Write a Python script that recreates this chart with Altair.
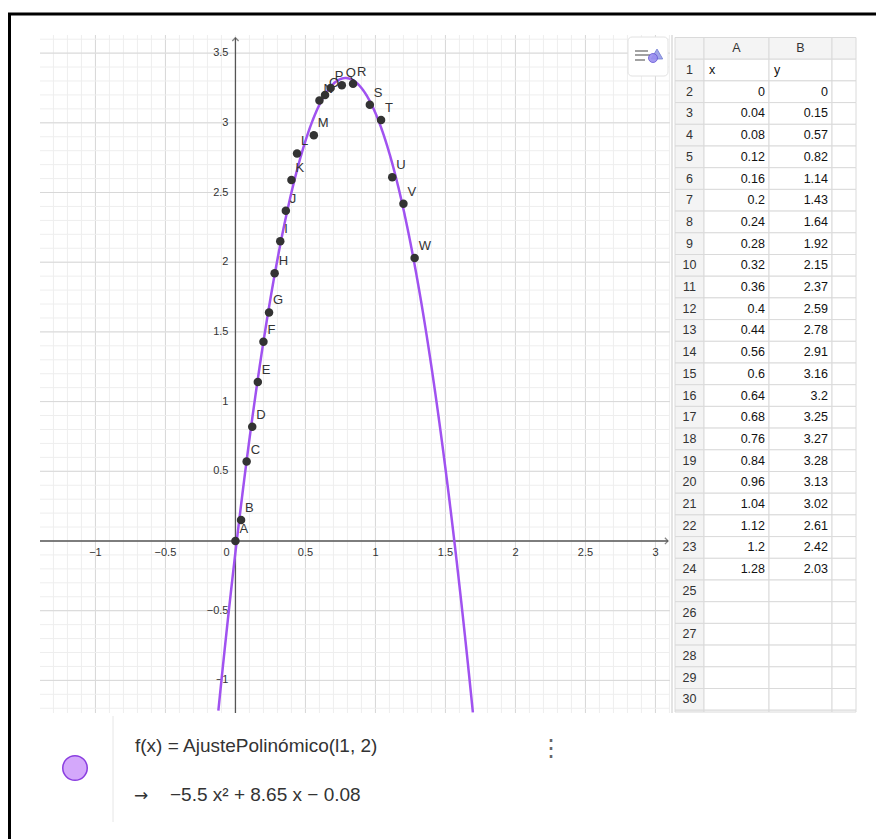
import altair as alt
import numpy as np
import pandas as pd

# Spreadsheet columns A (x) and B (y)
x_vals = [0, 0.04, 0.08, 0.12, 0.16, 0.2, 0.24, 0.28, 0.32, 0.36, 0.4, 0.44,
          0.56, 0.6, 0.64, 0.68, 0.76, 0.84, 0.96, 1.04, 1.12, 1.2, 1.28]
y_vals = [0, 0.15, 0.57, 0.82, 1.14, 1.43, 1.64, 1.92, 2.15, 2.37, 2.59, 2.78,
          2.91, 3.16, 3.2, 3.25, 3.27, 3.28, 3.13, 3.02, 2.61, 2.42, 2.03]
point_names = list("ABCDEFGHIJKLMNOPQRSTUVW")

# f(x) = a x^2 + b x + c
fit_coeffs = [-5.5, 8.65, -0.08]

x_ticks = [-1, -0.5, 0.5, 1, 1.5, 2, 2.5, 3]
y_ticks = [-1, -0.5, 0.5, 1, 1.5, 2, 2.5, 3, 3.5]

sheet_headers = ["", "A", "B", ""]
sheet_visible_rows = 30

FONT = "Liberation Sans"
INK = "#333333"
PURPLE = "#a052f0"
AXIS = "#555555"

# ---- graphics view window ----
X_DOMAIN = [-1.396, 3.104]
Y_DOMAIN = [-1.234, 3.63]
xs = alt.Scale(domain=X_DOMAIN, range=[40, 670], nice=False, zero=False)
ys = alt.Scale(domain=Y_DOMAIN, range=[713, 35], nice=False, zero=False)


def X(field):
    return alt.X(field, type="quantitative", scale=xs, axis=None)


def Y(field):
    return alt.Y(field, type="quantitative", scale=ys, axis=None)


def XD(v):
    return alt.X(datum=v, scale=xs, axis=None)


def YD(v):
    return alt.Y(datum=v, scale=ys, axis=None)


def fmt(v):
    return f"{v:g}".replace("-", "\u2212")


layers = []

# grid lines: minor every 0.1, major every 0.5
minor_x = [round(v, 1) for v in np.arange(-1.3, 3.11, 0.1)]
minor_y = [round(v, 1) for v in np.arange(-1.2, 3.61, 0.1)]
major_x = [-1, -0.5, 0.5, 1, 1.5, 2, 2.5, 3]
major_y = [-1, -0.5, 0.5, 1, 1.5, 2, 2.5, 3, 3.5]

for vals, color in ((minor_x, "#eeeeee"), (major_x, "#d8d8d8")):
    layers.append(
        alt.Chart(pd.DataFrame({"gx": vals})).mark_rule(color=color, strokeWidth=1).encode(
            x=X("gx"), y=YD(Y_DOMAIN[0]), y2=alt.Y2(datum=Y_DOMAIN[1])
        )
    )
for vals, color in ((minor_y, "#eeeeee"), (major_y, "#d8d8d8")):
    layers.append(
        alt.Chart(pd.DataFrame({"gy": vals})).mark_rule(color=color, strokeWidth=1).encode(
            y=Y("gy"), x=XD(X_DOMAIN[0]), x2=alt.X2(datum=X_DOMAIN[1])
        )
    )

# axes through the origin, with arrow heads
one = pd.DataFrame({"o": [0]})
layers.append(
    alt.Chart(one).mark_rule(color=AXIS, strokeWidth=1.3).encode(
        x=XD(X_DOMAIN[0]), x2=alt.X2(datum=3.09), y=YD(0)
    )
)
layers.append(
    alt.Chart(one).mark_rule(color=AXIS, strokeWidth=1.3).encode(
        x=XD(0), y=YD(Y_DOMAIN[0]), y2=alt.Y2(datum=3.61)
    )
)
chevron = "M-1,-1L0,0L-1,1"
layers.append(
    alt.Chart(one).mark_point(shape=chevron, filled=False, stroke=AXIS, strokeWidth=1.3, size=40).encode(
        x=XD(3.09), y=YD(0)
    )
)
layers.append(
    alt.Chart(one).mark_point(shape=chevron, filled=False, stroke=AXIS, strokeWidth=1.3, size=40, angle=270).encode(
        x=XD(0), y=YD(3.61)
    )
)

# tick labels
layers.append(
    alt.Chart(pd.DataFrame({"v": x_ticks, "t": [fmt(v) for v in x_ticks]}))
    .mark_text(dy=12, fontSize=11, font=FONT, color=INK, baseline="middle")
    .encode(x=X("v"), y=YD(0), text="t:N")
)
layers.append(
    alt.Chart(pd.DataFrame({"t": ["0"]}))
    .mark_text(dx=-9, dy=12, fontSize=11, font=FONT, color=INK, baseline="middle")
    .encode(x=XD(0), y=YD(0), text="t:N")
)
layers.append(
    alt.Chart(pd.DataFrame({"v": y_ticks, "t": [fmt(v) for v in y_ticks]}))
    .mark_text(dx=-7, align="right", fontSize=11, font=FONT, color=INK, baseline="middle")
    .encode(x=XD(0), y=Y("v"), text="t:N")
)

# fitted parabola
a, b, c = fit_coeffs
layers.append(
    alt.Chart(alt.sequence(-0.13, 1.70, 0.002, as_="x"))
    .transform_calculate(y=f"{a}*datum.x*datum.x + {b}*datum.x + {c}")
    .transform_filter(f"datum.y >= {Y_DOMAIN[0]}")
    .mark_line(color=PURPLE, strokeWidth=2.5)
    .encode(x=X("x"), y=Y("y"), order="x:Q")
)

# data points and their names
pts = pd.DataFrame({"x": x_vals, "y": y_vals, "name": point_names})
layers.append(
    alt.Chart(pts).mark_circle(size=72, color=INK, opacity=1).encode(x=X("x"), y=Y("y"))
)
layers.append(
    alt.Chart(pts)
    .mark_text(align="left", dx=4, dy=-12, fontSize=13, font=FONT, color=INK, baseline="middle")
    .encode(x=X("x"), y=Y("y"), text="name:N")
)

# style bar toggle in the corner of the graphics view
layers.append(
    alt.Chart(one).mark_rect(fill="white", stroke="#e2e2e2", cornerRadius=4).encode(
        x=alt.value(628), x2=alt.value(668), y=alt.value(37), y2=alt.value(76)
    )
)
bar_lines = pd.DataFrame({"x1": [635, 635, 635], "x2": [648, 650, 645], "yy": [51, 55, 60]})
layers.append(
    alt.Chart(bar_lines).mark_rule(color="#7a7a7a", strokeWidth=1.4).encode(
        x=alt.X("x1:Q", scale=alt.Scale(domain=[0, 876], range=[0, 876]), axis=None),
        x2="x2:Q",
        y=alt.Y("yy:Q", scale=alt.Scale(domain=[0, 839], range=[0, 839]), axis=None),
    )
)
layers.append(
    alt.Chart(one).mark_point(shape="triangle-up", filled=True, fill="#7b7fe0", stroke="#4a5bc8",
                              strokeWidth=1, size=130).encode(x=alt.value(657), y=alt.value(54))
)
layers.append(
    alt.Chart(one).mark_point(shape="circle", filled=True, fill="#9a8ff0", stroke="#6a5cd8",
                              strokeWidth=1, size=80, opacity=0.9).encode(x=alt.value(653), y=alt.value(58))
)

# ---- spreadsheet view ----
ROW_H = 21.7
SHEET_TOP = 37.5
SHEET_BOTTOM = 712
col_widths = [29, 65, 63, 24]
edges = np.concatenate([[0], np.cumsum(col_widths)]).tolist()
sx = alt.Scale(domain=[0, edges[-1]], range=[675, 675 + edges[-1]], nice=False, zero=False)
sy = alt.Scale(domain=[0, (SHEET_BOTTOM - SHEET_TOP) / ROW_H], range=[SHEET_TOP, SHEET_BOTTOM],
               nice=False, zero=False, clamp=True)

cells = []
for r in range(0, sheet_visible_rows + 2):
    for ci in range(4):
        cells.append({
            "l": edges[ci], "r": edges[ci + 1], "t": r, "b": r + 1,
            "fill": "#f4f4f4" if (r == 0 or ci == 0) else "#ffffff",
        })
cells = pd.DataFrame(cells)
layers.append(
    alt.Chart(cells).mark_rect(stroke="#dadada", strokeWidth=1).encode(
        x=alt.X("l:Q", scale=sx, axis=None), x2="r:Q",
        y=alt.Y("t:Q", scale=sy, axis=None), y2="b:Q",
        fill=alt.Fill("fill:N", scale=None),
    )
)

centered = [{"x": (edges[i] + edges[i + 1]) / 2, "row": 0.5, "t": h}
            for i, h in enumerate(sheet_headers) if h]
centered += [{"x": (edges[0] + edges[1]) / 2, "row": r + 0.5, "t": str(r)}
             for r in range(1, sheet_visible_rows + 1)]
layers.append(
    alt.Chart(pd.DataFrame(centered))
    .mark_text(fontSize=12.5, font=FONT, color=INK, baseline="middle")
    .encode(x=alt.X("x:Q", scale=sx, axis=None), y=alt.Y("row:Q", scale=sy, axis=None), text="t:N")
)
left_txt = pd.DataFrame({"x": [edges[1], edges[2]], "row": [1.5, 1.5], "t": ["x", "y"]})
layers.append(
    alt.Chart(left_txt)
    .mark_text(align="left", dx=5, fontSize=12.5, font=FONT, color="#111111", baseline="middle")
    .encode(x=alt.X("x:Q", scale=sx, axis=None), y=alt.Y("row:Q", scale=sy, axis=None), text="t:N")
)
right_rows = []
for i, (xv, yv) in enumerate(zip(x_vals, y_vals)):
    right_rows.append({"x": edges[2], "row": i + 2.5, "t": f"{xv:g}"})
    right_rows.append({"x": edges[3], "row": i + 2.5, "t": f"{yv:g}"})
layers.append(
    alt.Chart(pd.DataFrame(right_rows))
    .mark_text(align="right", dx=-4, fontSize=12.5, font=FONT, color="#111111", baseline="middle")
    .encode(x=alt.X("x:Q", scale=sx, axis=None), y=alt.Y("row:Q", scale=sy, axis=None), text="t:N")
)
# separator between the graphics and spreadsheet views
layers.append(
    alt.Chart(one).mark_rule(color="#e4e4e4", strokeWidth=2).encode(
        x=alt.value(672), y=alt.value(35), y2=alt.value(713)
    )
)

# ---- algebra view ----
layers.append(
    alt.Chart(one).mark_rule(color="#e6e6e6", strokeWidth=1).encode(
        x=alt.value(113), y=alt.value(716), y2=alt.value(822)
    )
)
layers.append(
    alt.Chart(one).mark_point(shape="circle", filled=True, fill="#d4a8fb", stroke="#8a3ee0",
                              strokeWidth=1.5, size=600, opacity=1).encode(x=alt.value(75), y=alt.value(768))
)
layers.append(
    alt.Chart(one).mark_text(text="f(x)  =  AjustePolinómico(l1, 2)", align="left", baseline="middle",
                             fontSize=19, font=FONT, color=INK).encode(x=alt.value(135), y=alt.value(746))
)
layers.append(
    alt.Chart(one).mark_text(text="\u2192", align="left", baseline="middle",
                             fontSize=17, font="DejaVu Sans", color=INK).encode(x=alt.value(134), y=alt.value(796))
)
layers.append(
    alt.Chart(one).mark_text(text="\u22125.5 x\u00b2 +  8.65 x  \u2212  0.08", align="left",
                             baseline="middle", fontSize=19, font=FONT, color=INK).encode(
        x=alt.value(170), y=alt.value(795))
)
layers.append(
    alt.Chart(one).mark_text(text="\u22ee", align="center", baseline="middle", fontSize=24,
                             font="DejaVu Sans", color="#666666").encode(x=alt.value(551), y=alt.value(749))
)

# ---- window frame ----
layers.append(
    alt.Chart(one).mark_rule(color="black", strokeWidth=3).encode(
        x=alt.value(8), x2=alt.value(876), y=alt.value(14)
    )
)
layers.append(
    alt.Chart(one).mark_rule(color="black", strokeWidth=3).encode(
        x=alt.value(9.5), y=alt.value(13), y2=alt.value(839)
    )
)

chart = (
    alt.layer(*layers)
    .resolve_scale(x="independent", y="independent")
    .properties(width=876, height=839, autosize=alt.AutoSizeParams(type="none"), padding=0,
                background="white")
    .configure_view(stroke=None)
)

chart.save("out.html", embed_options={"renderer": "svg", "actions": False})
